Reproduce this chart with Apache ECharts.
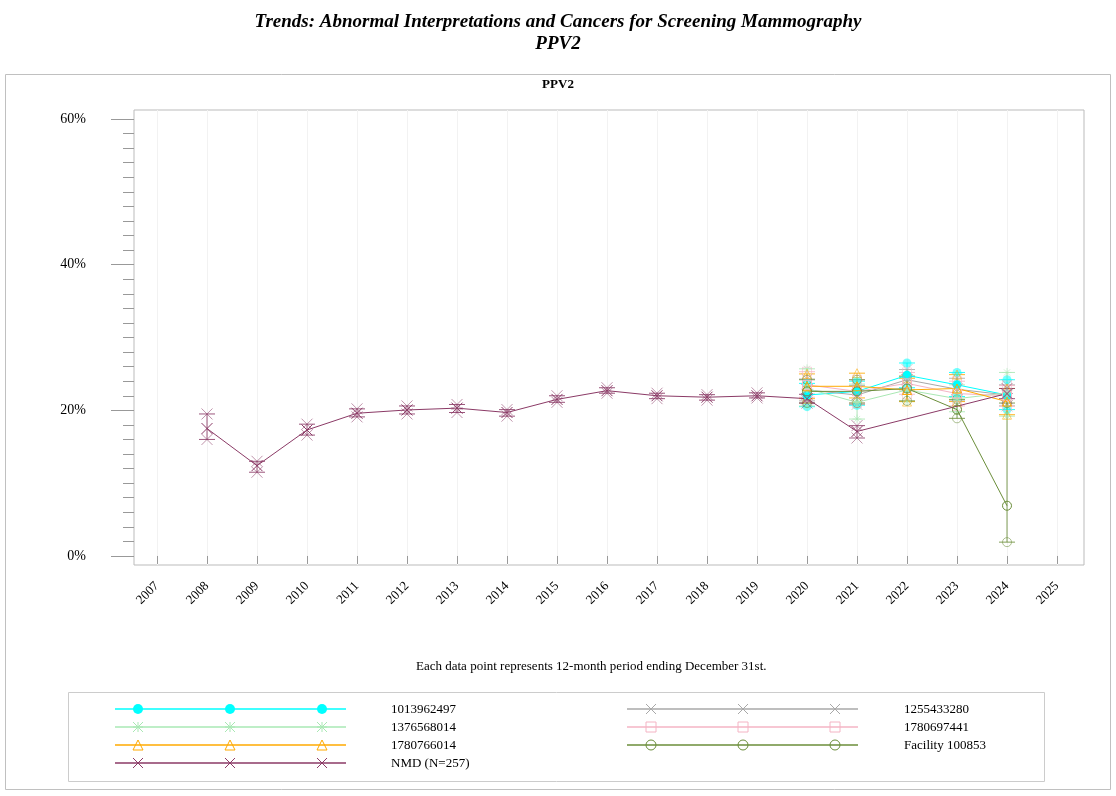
<!doctype html>
<html lang="en">
<head>
    <meta charset="UTF-8">
    <title>PPV2 Trends</title>
    <script src="https://cdn.jsdelivr.net/npm/echarts@6/dist/echarts.min.js"></script>
</head>
<body style="margin:0;background:#fff;">

<div id="chart" style="width: 1116px;height: 796px;"></div>
<script type="text/javascript">
    // axis ticks
    const yearTicks = [2007, 2008, 2009, 2010, 2011, 2012, 2013, 2014, 2015, 2016,
        2017, 2018, 2019, 2020, 2021, 2022, 2023, 2024, 2025];
    const pctTicks = [0, 20, 40, 60];
    const pctMinorTicks = [2, 4, 6, 8, 10, 12, 14, 16, 18, 22, 24, 26, 28, 30,
        32, 34, 36, 38, 42, 44, 46, 48, 50, 52, 54, 56, 58];

    // NMD benchmark (PPV2 %, with confidence limits)
    const nmdYears = [2008, 2009, 2010, 2011, 2012, 2013, 2014, 2015, 2016, 2017, 2018, 2019, 2020, 2021, 2024];
    const nmdPct   = [17.5, 12.4, 17.3, 19.6, 20.05, 20.3, 19.7, 21.5, 22.7, 22.0, 21.8, 22.0, 21.6, 17.1, 22.3];
    const nmdLow   = [16.0, 11.5, 16.6, 19.1, 19.5, 19.7, 19.2, 21.1, 22.35, 21.6, 21.4, 21.7, 21.0, 16.2, 21.6];
    const nmdHigh  = [19.5, 13.0, 18.1, 20.2, 20.6, 20.8, 20.1, 22.0, 23.1, 22.35, 22.15, 22.4, 22.2, 17.9, 23.0];

    // facilities / readers, 2020-2024
    const recentYears = [2020, 2021, 2022, 2023, 2024];
    const pct1013962497  = [22.1, 22.6, 24.8, 23.5, 22.1];
    const low1013962497  = [20.5, 20.7, 23.1, 21.9, 20.1];
    const high1013962497 = [23.7, 24.0, 26.5, 25.2, 24.2];
    const pct1255433280  = [22.8, 22.1, 24.2, 22.9, 22.1];
    const low1255433280  = [21.3, 20.8, 22.8, 21.3, 20.6];
    const high1255433280 = [24.3, 23.4, 25.6, 24.4, 23.5];
    const pct1376568014  = [23.0, 21.1, 22.8, 21.6, 22.4];
    const low1376568014  = [20.6, 18.8, 21.2, 19.8, 19.2];
    const high1376568014 = [25.7, 23.6, 24.6, 23.5, 25.2];
    const pct1780697441  = [23.5, 22.6, 23.7, 22.3, 22.0];
    const low1780697441  = [21.8, 21.0, 22.2, 20.6, 20.6];
    const high1780697441 = [25.3, 24.2, 25.2, 24.0, 23.4];
    const pct1780766014  = [23.3, 23.3, 22.8, 23.0, 21.2];
    const low1780766014  = [21.6, 21.7, 21.2, 21.2, 19.4];
    const high1780766014 = [25.0, 25.1, 24.4, 24.9, 23.0];
    const pctFacility    = [22.6, 22.6, 23.0, 20.1, 6.9];
    const lowFacility    = [21.0, 21.0, 21.3, 18.9, 1.9];
    const highFacility   = [24.2, 24.2, 24.7, 21.5, 21.0];

    const FONT = 'Liberation Serif';
    const X_PATH = 'path://M0,0L10,10M10,0L0,10';
    const STAR_PATH = 'path://M5,0L5,10M0,5L10,5M1.5,1.5L8.5,8.5M8.5,1.5L1.5,8.5';

    const groups = [
        {name: '1013962497', color: '#00FFFF', mark: 'dot', x: recentYears, y: pct1013962497, lo: low1013962497, hi: high1013962497},
        {name: '1255433280', color: '#A8A8A8', mark: 'x', x: recentYears, y: pct1255433280, lo: low1255433280, hi: high1255433280},
        {name: '1376568014', color: '#A9E8B4', mark: 'star', x: recentYears, y: pct1376568014, lo: low1376568014, hi: high1376568014},
        {name: '1780697441', color: '#F4B4C4', mark: 'square', x: recentYears, y: pct1780697441, lo: low1780697441, hi: high1780697441},
        {name: '1780766014', color: '#FFAA00', mark: 'triangle', x: recentYears, y: pct1780766014, lo: low1780766014, hi: high1780766014},
        {name: 'Facility 100853', color: '#6B8E3A', mark: 'circle', x: recentYears, y: pctFacility, lo: lowFacility, hi: highFacility},
        {name: 'NMD (N=257)', color: '#8B3A66', mark: 'x', x: nmdYears, y: nmdPct, lo: nmdLow, hi: nmdHigh}
    ];

    function symbolOf(mark) {
        if (mark === 'dot' || mark === 'circle') return 'circle';
        if (mark === 'x') return X_PATH;
        if (mark === 'star') return STAR_PATH;
        if (mark === 'square') return 'rect';
        return 'triangle';
    }
    function itemStyleOf(g) {
        return {
            color: g.mark === 'dot' ? g.color : 'rgba(0,0,0,0)',
            borderColor: g.color,
            borderWidth: g.mark === 'dot' ? 0 : 1
        };
    }

    let series = [];
    groups.forEach(function (g) {
        const pts = g.x.map(function (yr, i) { return [yr, g.y[i]]; });
        const bars = g.x.map(function (yr, i) { return [yr, g.lo[i], g.hi[i]]; });
        const ends = [];
        g.x.forEach(function (yr, i) { ends.push([yr, g.lo[i]]); ends.push([yr, g.hi[i]]); });
        series.push({
            name: g.name + ' ci',
            type: 'custom',
            data: bars,
            encode: {x: 0, y: [1, 2]},
            renderItem: function (params, api) {
                const a = api.coord([api.value(0), api.value(1)]);
                const b = api.coord([api.value(0), api.value(2)]);
                const st = {stroke: g.color, lineWidth: 1, opacity: 0.85};
                return {
                    type: 'group', children: [
                        {type: 'line', shape: {x1: a[0], y1: a[1], x2: b[0], y2: b[1]}, style: st},
                        {type: 'line', shape: {x1: a[0] - 8, y1: a[1], x2: a[0] + 8, y2: a[1]}, style: st},
                        {type: 'line', shape: {x1: b[0] - 8, y1: b[1], x2: b[0] + 8, y2: b[1]}, style: st}
                    ]
                };
            }
        });
        series.push({
            name: g.name + ' ends',
            type: 'scatter',
            data: ends,
            symbol: symbolOf(g.mark),
            symbolSize: g.mark === 'x' ? 11 : 9,
            itemStyle: Object.assign(itemStyleOf(g), {opacity: 0.55})
        });
        series.push({
            name: g.name,
            type: 'line',
            data: pts,
            symbol: symbolOf(g.mark),
            symbolSize: g.mark === 'x' ? 11 : 9,
            showAllSymbol: true,
            lineStyle: {color: g.color, width: 1},
            itemStyle: itemStyleOf(g)
        });
    });

    // legend drawn as graphic, two columns like the original
    function markEls(mark, cx, cy, color) {
        const st = {stroke: color, lineWidth: 1, fill: null};
        if (mark === 'dot') return [{type: 'circle', shape: {cx: cx, cy: cy, r: 5}, style: {fill: color}}];
        if (mark === 'circle') return [{type: 'circle', shape: {cx: cx, cy: cy, r: 5}, style: st}];
        if (mark === 'square') return [{type: 'rect', shape: {x: cx - 5, y: cy - 5, width: 10, height: 10}, style: st}];
        if (mark === 'triangle') return [{type: 'polygon', shape: {points: [[cx, cy - 5], [cx + 5, cy + 5], [cx - 5, cy + 5]]}, style: st}];
        let els = [
            {type: 'line', shape: {x1: cx - 5, y1: cy - 5, x2: cx + 5, y2: cy + 5}, style: st},
            {type: 'line', shape: {x1: cx + 5, y1: cy - 5, x2: cx - 5, y2: cy + 5}, style: st}
        ];
        if (mark === 'star') {
            els.push({type: 'line', shape: {x1: cx, y1: cy - 5, x2: cx, y2: cy + 5}, style: st});
            els.push({type: 'line', shape: {x1: cx - 5, y1: cy, x2: cx + 5, y2: cy}, style: st});
        }
        return els;
    }
    let graphics = [
        {type: 'rect', shape: {x: 5.5, y: 74.5, width: 1105, height: 715}, style: {fill: null, stroke: '#c0c0c0', lineWidth: 1}, z: -1},
        {type: 'rect', shape: {x: 68.5, y: 692.5, width: 976, height: 89}, style: {fill: null, stroke: '#cccccc', lineWidth: 1}, z: -1}
    ];
    groups.forEach(function (g, i) {
        const col = i % 2, row = Math.floor(i / 2);
        const y = 709 + row * 18;
        const x0 = col === 0 ? 115 : 627, x1 = col === 0 ? 346 : 858;
        const marks = col === 0 ? [138, 230, 322] : [651, 743, 835];
        const tx = col === 0 ? 391 : 904;
        graphics.push({type: 'line', shape: {x1: x0, y1: y, x2: x1, y2: y}, style: {stroke: g.color, lineWidth: 1.5}});
        marks.forEach(function (mx) { graphics = graphics.concat(markEls(g.mark, mx, y, g.color)); });
        graphics.push({type: 'text', x: tx, y: y + 1, style: {text: g.name, font: '13px "' + FONT + '"', fill: '#000', verticalAlign: 'middle'}});
    });

    let chart = echarts.init(document.getElementById("chart"));
    chart.setOption({
        animation: false,
        backgroundColor: '#fff',
        title: [
            {
                text: 'Trends: Abnormal Interpretations and Cancers for Screening Mammography\nPPV2',
                left: 'center', top: 6,
                textStyle: {fontFamily: FONT, fontStyle: 'italic', fontWeight: 'bold', fontSize: 19, lineHeight: 22, color: '#000'}
            },
            {
                text: 'PPV2', left: 'center', top: 73,
                textStyle: {fontFamily: FONT, fontWeight: 'bold', fontSize: 13, color: '#000'}
            },
            {
                text: 'Each data point represents 12-month period ending December 31st.', left: 411, top: 655,
                textStyle: {fontFamily: FONT, fontWeight: 'normal', fontSize: 13, color: '#000'}
            }
        ],
        grid: {left: 134, right: 32, top: 110, bottom: 231, show: true, borderColor: '#bbbbbb', borderWidth: 1},
        xAxis: {
            type: 'value', min: 2006.54, max: 2025.54,
            axisLine: {show: false},
            axisTick: {show: true, customValues: yearTicks, length: 8, lineStyle: {color: '#999'}},
            axisLabel: {
                customValues: yearTicks, rotate: 45, margin: 19,
                fontFamily: FONT, fontSize: 13, color: '#000',
                formatter: function (v) { return String(v); }
            },
            splitLine: {show: true, lineStyle: {color: '#f2f2f2', width: 1}}
        },
        yAxis: [
            {
                type: 'value', min: -1.24, max: 61.24,
                axisLine: {show: false},
                axisTick: {show: true, customValues: pctTicks, length: 23, lineStyle: {color: '#999'}},
                axisLabel: {
                    customValues: pctTicks, margin: 48,
                    fontFamily: FONT, fontSize: 14, color: '#000',
                    formatter: function (v) { return v + '%'; }
                },
                splitLine: {show: false}
            },
            {
                type: 'value', min: -1.24, max: 61.24, position: 'left',
                axisLine: {show: false},
                axisTick: {show: true, customValues: pctMinorTicks, length: 11, lineStyle: {color: '#999'}},
                axisLabel: {show: false},
                splitLine: {show: false}
            }
        ],
        series: series,
        graphic: graphics
    });
</script>
</body>
</html>
